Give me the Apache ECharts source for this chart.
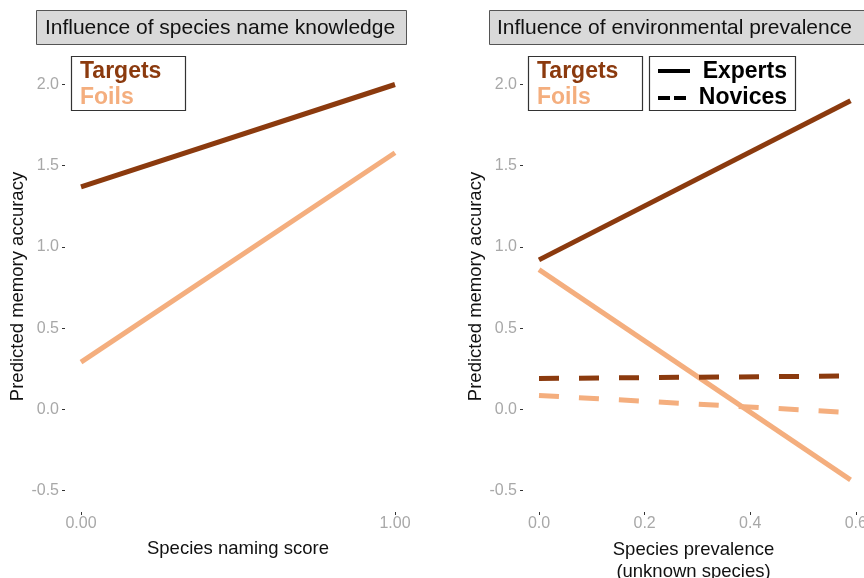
<!DOCTYPE html>
<html>
<head>
<meta charset="utf-8">
<script src="https://cdn.jsdelivr.net/npm/echarts@6/dist/echarts.min.js"></script>
<style>
  html, body { margin: 0; padding: 0; background: #fff; }
  #chart { width: 864px; height: 578px; }
</style>
</head>
<body>
<div id="chart"></div>
<script>
// Panel 1: species name knowledge
const namingScore = [0, 1];
const namingTargets = [1.37, 2.0];
const namingFoils = [0.29, 1.58];

// Panel 2: environmental prevalence (unknown species)
const prevalence = [0, 0.59];
const expertTargets = [0.92, 1.90];
const expertFoils = [0.86, -0.435];
const noviceTargets = [0.19, 0.205];
const noviceFoils = [0.085, -0.02];

// Tick labels
const yTicks = [-0.5, 0, 0.5, 1, 1.5, 2];
const xTicksNaming = [0, 1];
const xTicksPrev = [0, 0.2, 0.4, 0.6];

const panelTitles = ['Influence of species name knowledge', 'Influence of environmental prevalence'];
const groupLabels = ['Targets', 'Foils'];
const expertiseLabels = ['Experts', 'Novices'];

const TARGET_COLOR = '#8B3A0E';
const FOIL_COLOR = '#F4AE7E';
const FONT = '"Liberation Sans", Arial, sans-serif';
const TICK_LABEL = '#A8A8A8';

const pairs = (xs, ys) => xs.map((x, i) => [x, ys[i]]);

function yAxisCfg(gridIndex) {
  return {
    type: 'value', gridIndex,
    min: -0.6324, max: 2.1447,
    axisLine: { show: false, onZero: false },
    splitLine: { show: false },
    axisTick: { show: true, length: 3, lineStyle: { color: '#333', width: 1 }, customValues: yTicks },
    axisLabel: { color: TICK_LABEL, fontSize: 16, fontFamily: FONT, margin: 6,
                 customValues: yTicks, formatter: v => v.toFixed(1) },
    name: 'Predicted memory accuracy',
    nameLocation: 'middle', nameRotate: 90, nameGap: 38,
    nameTextStyle: { color: '#111', fontSize: 18.5, fontFamily: FONT }
  };
}

function lineSeries(name, xi, yi, data, color, dashed) {
  return {
    type: 'line', name, xAxisIndex: xi, yAxisIndex: yi, data,
    showSymbol: false, symbol: 'none', silent: true,
    lineStyle: { color, width: 5, cap: 'butt', type: dashed ? [20, 20] : 'solid' }
  };
}

const chart = echarts.init(document.getElementById('chart'), null, { renderer: 'canvas' });

chart.setOption({
  animation: false,
  backgroundColor: '#fff',
  grid: [
    { left: 65, right: 453, top: 61, bottom: 66, outerBoundsMode: 'none', containLabel: false },
    { left: 523, right: 0, top: 61, bottom: 66, outerBoundsMode: 'none', containLabel: false }
  ],
  xAxis: [
    {
      type: 'value', gridIndex: 0, min: -0.051, max: 1.051,
      axisLine: { show: false, onZero: false }, splitLine: { show: false },
      axisTick: { show: true, length: 3, lineStyle: { color: '#333' }, customValues: xTicksNaming },
      axisLabel: { color: TICK_LABEL, fontSize: 16, fontFamily: FONT, margin: 4,
                   customValues: xTicksNaming, formatter: v => v.toFixed(2) },
      name: 'Species naming score', nameLocation: 'middle', nameGap: 27,
      nameTextStyle: { color: '#111', fontSize: 18.5, fontFamily: FONT }
    },
    {
      type: 'value', gridIndex: 1, min: -0.0303, max: 0.6155,
      axisLine: { show: false, onZero: false }, splitLine: { show: false },
      axisTick: { show: true, length: 3, lineStyle: { color: '#333' }, customValues: xTicksPrev },
      axisLabel: { color: TICK_LABEL, fontSize: 16, fontFamily: FONT, margin: 4,
                   customValues: xTicksPrev, formatter: v => v.toFixed(1) },
      name: 'Species prevalence\n(unknown species)', nameLocation: 'middle', nameGap: 27,
      nameTextStyle: { color: '#111', fontSize: 18.5, fontFamily: FONT, lineHeight: 22, verticalAlign: 'top' }
    }
  ],
  yAxis: [yAxisCfg(0), yAxisCfg(1)],
  series: [
    lineSeries('Targets', 0, 0, pairs(namingScore, namingTargets), TARGET_COLOR, false),
    lineSeries('Foils', 0, 0, pairs(namingScore, namingFoils), FOIL_COLOR, false),
    lineSeries('Targets (experts)', 1, 1, pairs(prevalence, expertTargets), TARGET_COLOR, false),
    lineSeries('Foils (experts)', 1, 1, pairs(prevalence, expertFoils), FOIL_COLOR, false),
    lineSeries('Targets (novices)', 1, 1, pairs(prevalence, noviceTargets), TARGET_COLOR, true),
    lineSeries('Foils (novices)', 1, 1, pairs(prevalence, noviceFoils), FOIL_COLOR, true)
  ],
  graphic: [
    // Panel title boxes
    { type: 'rect', shape: { x: 36.5, y: 10.5, width: 370, height: 34 },
      style: { fill: '#D9D9D9', stroke: '#555', lineWidth: 1 } },
    { type: 'text', x: 220, y: 28,
      style: { text: panelTitles[0], font: '21px ' + FONT, fill: '#111', align: 'center', verticalAlign: 'middle' } },
    { type: 'rect', shape: { x: 489.5, y: 10.5, width: 400, height: 34 },
      style: { fill: '#D9D9D9', stroke: '#555', lineWidth: 1 } },
    { type: 'text', x: 497, y: 28,
      style: { text: panelTitles[1], font: '21px ' + FONT, fill: '#111', align: 'left', verticalAlign: 'middle' } },

    // Legend: left panel
    { type: 'rect', shape: { x: 71.5, y: 56.5, width: 114, height: 54 },
      style: { fill: '#fff', stroke: '#333', lineWidth: 1.2 } },
    { type: 'text', x: 80, y: 72,
      style: { text: groupLabels[0], font: 'bold 23px ' + FONT, fill: TARGET_COLOR, verticalAlign: 'middle' } },
    { type: 'text', x: 80, y: 98,
      style: { text: groupLabels[1], font: 'bold 23px ' + FONT, fill: FOIL_COLOR, verticalAlign: 'middle' } },

    // Legend: right panel, groups
    { type: 'rect', shape: { x: 528.5, y: 56.5, width: 114, height: 54 },
      style: { fill: '#fff', stroke: '#333', lineWidth: 1.2 } },
    { type: 'text', x: 537, y: 72,
      style: { text: groupLabels[0], font: 'bold 23px ' + FONT, fill: TARGET_COLOR, verticalAlign: 'middle' } },
    { type: 'text', x: 537, y: 98,
      style: { text: groupLabels[1], font: 'bold 23px ' + FONT, fill: FOIL_COLOR, verticalAlign: 'middle' } },

    // Legend: right panel, expertise line types
    { type: 'rect', shape: { x: 649.5, y: 56.5, width: 146, height: 54 },
      style: { fill: '#fff', stroke: '#333', lineWidth: 1.2 } },
    { type: 'line', shape: { x1: 658, y1: 71, x2: 690, y2: 71 },
      style: { stroke: '#000', lineWidth: 4 } },
    { type: 'line', shape: { x1: 658, y1: 98, x2: 690, y2: 98 },
      style: { stroke: '#000', lineWidth: 4, lineDash: [12, 4] } },
    { type: 'text', x: 787, y: 72,
      style: { text: expertiseLabels[0], font: 'bold 23px ' + FONT, fill: '#000', align: 'right', verticalAlign: 'middle' } },
    { type: 'text', x: 787, y: 98,
      style: { text: expertiseLabels[1], font: 'bold 23px ' + FONT, fill: '#000', align: 'right', verticalAlign: 'middle' } }
  ]
});
</script>
</body>
</html>
